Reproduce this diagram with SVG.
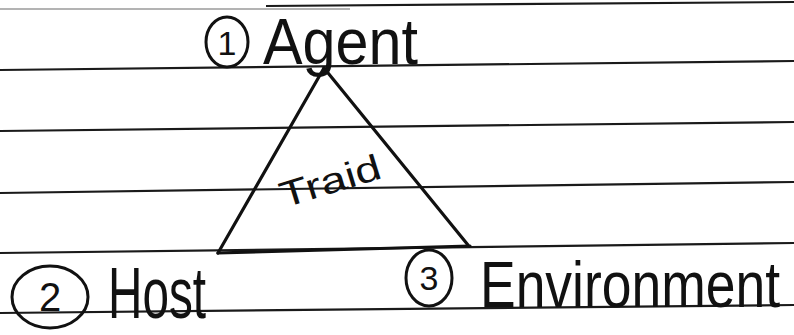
<svg xmlns="http://www.w3.org/2000/svg" width="794" height="335" viewBox="0 0 794 335">
  <style>
    .rule { stroke: #1a1a1a; stroke-width: 2.2; fill: none; }
    .rule-faint { stroke: #9a9a9a; stroke-width: 1.6; fill: none; }
    .edge { stroke: #111; stroke-width: 3.2; stroke-linecap: round; fill: none; }
    .badge { stroke: #111; stroke-width: 3; fill: none; }
    .ink { font-family: "Liberation Sans", Arial, sans-serif; fill: #111; }
  </style>
  <rect x="0" y="0" width="794" height="335" fill="#ffffff"/>
  <g id="ruled-paper">
    <line class="rule-faint" x1="0" y1="9" x2="350" y2="9"/>
    <line class="rule" x1="266" y1="6" x2="794" y2="2"/>
    <line class="rule" x1="0" y1="70" x2="794" y2="61"/>
    <line class="rule" x1="0" y1="131" x2="794" y2="122"/>
    <line class="rule" x1="0" y1="193" x2="794" y2="182"/>
    <line class="rule" x1="0" y1="253" x2="794" y2="243"/>
    <line class="rule" x1="0" y1="313" x2="794" y2="305"/>
  </g>
  <g id="connectors">
    <line class="edge" x1="324" y1="68" x2="218" y2="253"/>
    <line class="edge" x1="324" y1="68" x2="468" y2="245"/>
    <line class="edge" x1="218" y1="253" x2="470" y2="246"/>
  </g>
  <g id="agent">
    <ellipse class="badge" cx="227" cy="42" rx="21" ry="25"/>
    <text class="ink" x="227" y="55" font-size="34" text-anchor="middle">1</text>
    <text class="ink" x="263" y="64" font-size="64" textLength="155" lengthAdjust="spacingAndGlyphs">Agent</text>
  </g>
  <g id="host">
    <ellipse class="badge" cx="50" cy="297" rx="38" ry="31"/>
    <text class="ink" x="50" y="311" font-size="40" text-anchor="middle">2</text>
    <text class="ink" x="108" y="318" font-size="72" textLength="98" lengthAdjust="spacingAndGlyphs">Host</text>
  </g>
  <g id="environment">
    <ellipse class="badge" cx="429" cy="278" rx="23" ry="28"/>
    <text class="ink" x="429" y="290" font-size="34" text-anchor="middle">3</text>
    <text class="ink" x="0" y="0" font-size="54" textLength="300" lengthAdjust="spacingAndGlyphs" transform="translate(480 307) scale(1 1.2)">Environment</text>
  </g>
  <g id="triad-label">
    <text class="ink" x="0" y="0" font-size="36" textLength="104" lengthAdjust="spacingAndGlyphs" transform="translate(284 208) rotate(-17)">Traid</text>
  </g>
</svg>
